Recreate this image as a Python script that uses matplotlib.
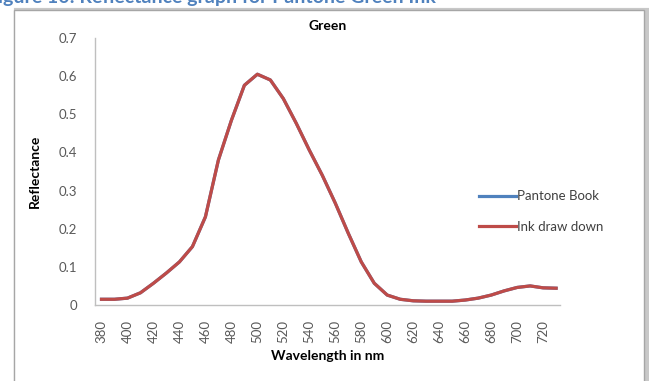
import matplotlib.pyplot as plt
from matplotlib.patches import Rectangle

# Reflectance spectra, 380-730 nm in 10 nm steps
wavelength = [380, 390, 400, 410, 420, 430, 440, 450, 460, 470, 480, 490,
              500, 510, 520, 530, 540, 550, 560, 570, 580, 590, 600, 610,
              620, 630, 640, 650, 660, 670, 680, 690, 700, 710, 720, 730]

pantone_book = [0.015, 0.015, 0.018, 0.032, 0.057, 0.084, 0.113, 0.153,
                0.231, 0.380, 0.484, 0.576, 0.605, 0.590, 0.541, 0.476,
                0.406, 0.340, 0.267, 0.188, 0.113, 0.057, 0.026, 0.015,
                0.011, 0.010, 0.010, 0.010, 0.013, 0.018, 0.026, 0.037,
                0.046, 0.050, 0.045, 0.044]

ink_draw_down = [0.015, 0.015, 0.018, 0.032, 0.057, 0.084, 0.113, 0.153,
                 0.231, 0.380, 0.484, 0.576, 0.605, 0.590, 0.541, 0.476,
                 0.406, 0.340, 0.267, 0.188, 0.113, 0.057, 0.026, 0.015,
                 0.011, 0.010, 0.010, 0.010, 0.013, 0.018, 0.026, 0.037,
                 0.046, 0.050, 0.045, 0.044]

tick_labels = [380, 400, 420, 440, 460, 480, 500, 520, 540, 560, 580,
               600, 620, 640, 660, 680, 700, 720]
y_ticks = [0, 0.1, 0.2, 0.3, 0.4, 0.5, 0.6, 0.7]

plt.rcParams['font.family'] = ['Lato', 'DejaVu Sans']

fig = plt.figure(figsize=(6.49, 3.81), dpi=100)

# Caption above the chart box (partly cut by the top edge)
fig.text(-0.02, 1 - 3 / 381, 'Figure 10: Reflectance graph for Pantone Green Ink',
         color='#4F81BD', fontsize=14, fontweight='bold',
         ha='left', va='baseline')

# Chart area frame with a soft shadow
fig.patches.append(Rectangle((16 / 649, -0.01), 631 / 649, 0.985,
                             transform=fig.transFigure, facecolor='none',
                             edgecolor='#c8c8c8', lw=3.0, zorder=-3))
fig.patches.append(Rectangle((14 / 649, -0.005), 630 / 649, 0.98,
                             transform=fig.transFigure, facecolor='white',
                             edgecolor='#a6a6a6', lw=1.0, zorder=-2))

ax = fig.add_axes([95 / 649, 76 / 381, 465 / 649, 267 / 381])
ax.set_facecolor('none')

ax.plot(wavelength, pantone_book, color='#4F81BD', lw=2.3,
        label='Pantone Book')
ax.plot(wavelength, ink_draw_down, color='#BE4B48', lw=2.3,
        label='Ink draw down')

ax.set_xlim(375, 733)
ax.set_ylim(0, 0.7)
ax.set_xticks(tick_labels)
ax.set_xticklabels([str(t) for t in tick_labels], rotation=90)
ax.set_yticks(y_ticks)
ax.set_yticklabels(['0'] + ['%.1f' % v for v in y_ticks[1:]])
ax.tick_params(axis='both', length=0, labelsize=9.5, colors='#595959')
ax.tick_params(axis='y', pad=13)
ax.tick_params(axis='x', pad=11)

for side in ('top', 'right'):
    ax.spines[side].set_visible(False)
for side in ('left', 'bottom'):
    ax.spines[side].set_color('#bfbfbf')
    ax.spines[side].set_linewidth(1.0)

ax.set_title('Green', fontsize=10, fontweight='bold', pad=6)
ax.set_xlabel('Wavelength in nm', fontsize=10, fontweight='bold', labelpad=5)
ax.set_ylabel('Reflectance', fontsize=10, fontweight='bold', labelpad=13)

leg = ax.legend(loc='center left', bbox_to_anchor=(0.8, 0.35), frameon=False,
                fontsize=9.5, handlelength=2.8, handletextpad=0.1,
                labelspacing=1.4)
for text in leg.get_texts():
    text.set_color('#404040')

fig.savefig('out.png', dpi=100)
